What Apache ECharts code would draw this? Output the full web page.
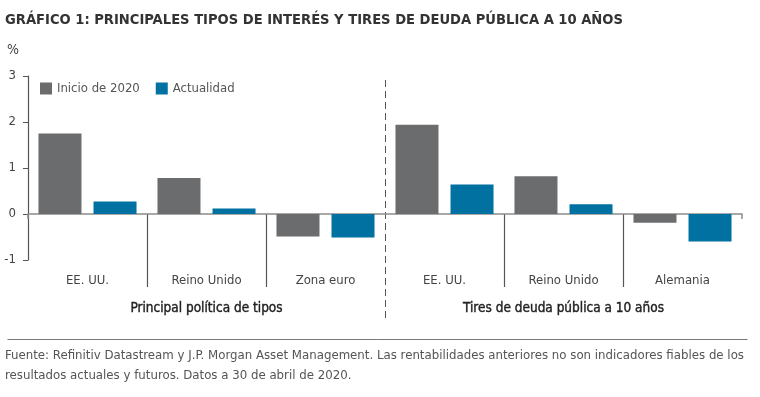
<!DOCTYPE html>
<html>
<head>
<meta charset="utf-8">
<script src="https://cdn.jsdelivr.net/npm/echarts@6/dist/echarts.min.js"></script>
<style>
  html, body { margin: 0; padding: 0; background: #fff; }
  #chart { width: 760px; height: 397px; }
</style>
</head>
<body>
<div id="chart"></div>
<script>
// datos
const categories = ['EE. UU.', 'Reino Unido', 'Zona euro', 'EE. UU.', 'Reino Unido', 'Alemania'];
const groups = ['Principal política de tipos', 'Tires de deuda pública a 10 años'];
const inicio2020 = [1.75, 0.78, -0.49, 1.94, 0.82, -0.19];
const actualidad = [0.27, 0.12, -0.51, 0.64, 0.21, -0.60];
const yTicks = [-1, 0, 1, 2, 3];

const FONT = '"Liberation Sans Narrow", "DejaVu Sans Condensed", "Noto Sans", sans-serif';
const GREY = '#6b6c6e';
const BLUE = '#0071a0';

const chart = echarts.init(document.getElementById('chart'));

// separadores entre categorías; el 0 se pierde con showMinLine: false
const dividerAt = (i) => i === 0 || i === 1 || i === 2 || i === 4 || i === 5;

const option = {
  backgroundColor: '#fff',
  textStyle: { fontFamily: FONT },
  title: [
    {
      text: 'GRÁFICO 1: PRINCIPALES TIPOS DE INTERÉS Y TIRES DE DEUDA PÚBLICA A 10 AÑOS',
      left: 5, top: 13, padding: 0,
      textStyle: { fontSize: 14.6, fontWeight: 'bold', color: '#333', fontFamily: FONT }
    },
    {
      text: '%',
      left: 7, top: 43, padding: 0,
      textStyle: { fontSize: 14, fontWeight: 'normal', color: '#444', fontFamily: FONT }
    },
    {
      text: 'Fuente: Refinitiv Datastream y J.P. Morgan Asset Management. Las rentabilidades anteriores no son indicadores fiables de los\nresultados actuales y futuros. Datos a 30 de abril de 2020.',
      left: 5, top: 346, padding: 0,
      textStyle: { fontSize: 13.1, fontWeight: 'normal', color: '#555', lineHeight: 20, fontFamily: FONT }
    }
  ],
  legend: {
    left: 40, top: 82, padding: 0,
    icon: 'rect', itemWidth: 12, itemHeight: 12, itemGap: 16,
    textStyle: { fontSize: 13, color: '#555', fontFamily: FONT },
    data: ['Inicio de 2020', 'Actualidad']
  },
  grid: [
    { left: 28, right: 18, top: 76, bottom: 137 },
    { left: 28, right: 18, top: 214, bottom: 110 },
    { left: 28, right: 18, top: 80, bottom: 77 }
  ],
  xAxis: [
    {
      gridIndex: 0, type: 'category', data: categories,
      axisLine: { onZero: true, lineStyle: { color: '#8c8c8c', width: 1.5 } },
      // solo queda la marca corta del extremo derecho
      axisTick: { show: true, length: 5, interval: (i) => i === 0, lineStyle: { color: '#8c8c8c', width: 1.5 } },
      axisLabel: { margin: 14, fontSize: 13, color: '#444', fontFamily: FONT }
    },
    {
      gridIndex: 1, type: 'category', data: categories,
      axisLine: { show: false }, axisTick: { show: false }, axisLabel: { show: false },
      splitLine: {
        show: true, showMinLine: false, showMaxLine: false,
        interval: dividerAt,
        lineStyle: { color: '#555', width: 1.2 }
      }
    },
    {
      gridIndex: 2, type: 'category', data: groups,
      axisLine: { show: false }, axisTick: { show: false },
      axisLabel: {
        inside: true, margin: 5, fontSize: 13.5, color: '#1f1f1f', fontWeight: 'normal', fontFamily: FONT,
        textBorderColor: '#1f1f1f', textBorderWidth: 0.4
      },
      splitLine: {
        show: true, showMinLine: false, showMaxLine: false,
        lineStyle: { color: '#555', width: 1, type: [7, 4] }
      }
    }
  ],
  yAxis: [
    {
      gridIndex: 0, type: 'value', min: -1, max: 3, interval: 1,
      axisLine: { show: true, lineStyle: { color: '#555', width: 1.2 } },
      axisTick: { show: true, length: 5, lineStyle: { color: '#555' } },
      splitLine: { show: false },
      axisLabel: {
        margin: 12, fontSize: 13, color: '#444', fontFamily: FONT,
        formatter: (v) => (yTicks.includes(v) ? String(v) : '')
      }
    },
    { gridIndex: 1, type: 'value', show: false },
    { gridIndex: 2, type: 'value', show: false }
  ],
  series: [
    {
      name: 'Inicio de 2020', type: 'bar', xAxisIndex: 0, yAxisIndex: 0,
      data: inicio2020, barWidth: 43, barGap: '28%',
      itemStyle: { color: GREY }
    },
    {
      name: 'Actualidad', type: 'bar', xAxisIndex: 0, yAxisIndex: 0,
      data: actualidad, barWidth: 43, barGap: '28%',
      itemStyle: { color: BLUE }
    }
  ],
  graphic: [
    {
      type: 'line', left: 5, top: 337, silent: true,
      shape: { x1: 0, y1: 0, x2: 740, y2: 0 },
      style: { stroke: '#777', lineWidth: 1 }
    }
  ]
};

chart.setOption(option);
</script>
</body>
</html>
